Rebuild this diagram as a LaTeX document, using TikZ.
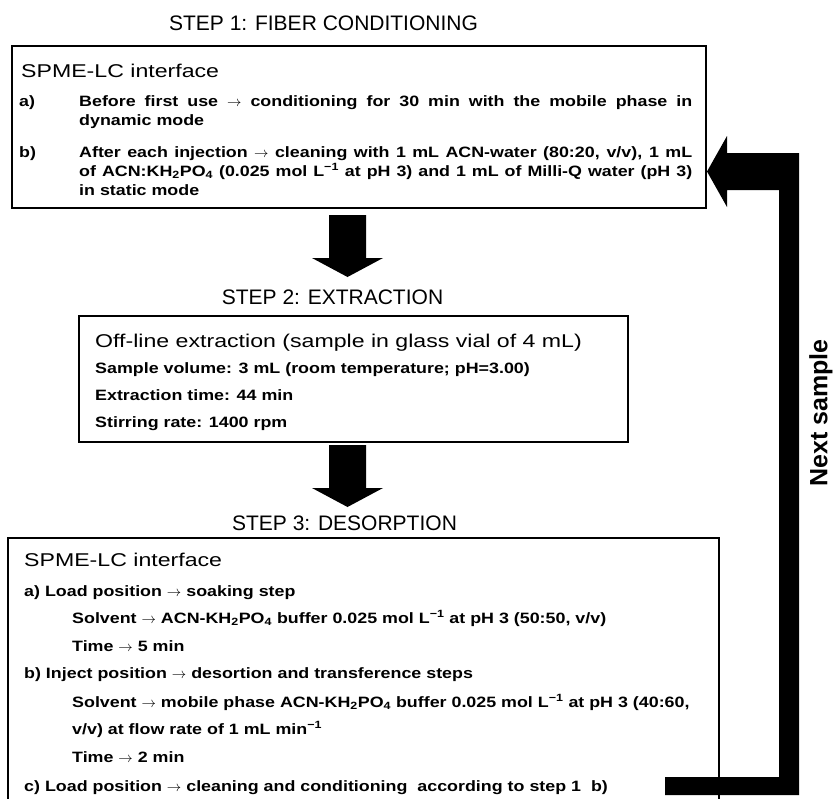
\documentclass[tikz,border=0pt]{standalone}
\usepackage{fontspec}
\setmainfont{Liberation Sans}
\newfontfamily\ttlfam{Liberation Sans}
\newfontfamily\hdfam{Liberation Sans}[FakeStretch=1.25]
\newfontfamily\txtfam{Liberation Sans Bold}[FakeStretch=1.19]
\newfontfamily\nsfam{Liberation Sans Bold}
\usetikzlibrary{calc}
\tikzset{
  ttl/.style={font=\ttlfam\fontsize{21}{25}\selectfont, inner sep=0pt},
  hd/.style={font=\hdfam\fontsize{18.5}{22}\selectfont, anchor=base west, inner sep=0pt},
  txt/.style={font=\txtfam\fontsize{15}{18}\selectfont, anchor=base west, inner sep=0pt},
  boxed/.style={draw, line width=2.5pt, outer sep=0pt, inner sep=0pt, anchor=north west},
  openbox/.style={draw, line width=2pt},
  blk/.style={fill=black},
  nslabel/.style={font=\nsfam\fontsize{25}{30}\selectfont, inner sep=0pt, rotate=90}
}
\begin{document}
\begin{tikzpicture}[x=1pt,y=-1pt]
\useasboundingbox (0,0) rectangle (834,798);
\clip (0,0) rectangle (834,798);

% titles
\node[ttl] (t1) at (323.5,23) {STEP 1: FIBER CONDITIONING};
\node[ttl] (t2) at (332.5,297) {STEP 2: EXTRACTION};
\node[ttl] (t3) at (344.5,523) {STEP 3: DESORPTION};

% boxes
\node[boxed, minimum width=694pt, minimum height=162pt] (b1) at (12,46) {};
\node[boxed, minimum width=549pt, minimum height=126pt] (b2) at (79,316) {};
\coordinate (b3nw) at (8,538);
\coordinate (b3ne) at (719,538);
\coordinate (b3sw) at (8,806);
\coordinate (b3se) at (719,806);
\draw[openbox] (b3sw) -- (b3nw) -- (b3ne) -- (b3se);

% box 1 text
\node[hd] (s1h) at (21,77) {SPME-LC interface};
\node[txt] (s1a) at (19,106) {a)};
\node[txt] (s1a1) at (79,106) {\makebox[613pt][s]{Before first use $\rightarrow$ conditioning for 30 min with the mobile phase in}};
\node[txt] (s1a2) at (79,125) {dynamic mode};
\node[txt] (s1b) at (19,157) {b)};
\node[txt] (s1b1) at (79,157) {\makebox[613pt][s]{After each injection $\rightarrow$ cleaning with 1 mL ACN-water (80:20, v/v), 1 mL}};
\node[txt] (s1b2) at (79,176) {\makebox[613pt][s]{of ACN:KH\textsubscript{2}PO\textsubscript{4} (0.025 mol L\textsuperscript{−1} at pH 3) and 1 mL of Milli-Q water (pH 3)}};
\node[txt] (s1b3) at (79,195) {in static mode};

% box 2 text
\node[hd] (s2h) at (95,347) {Off-line extraction (sample in glass vial of 4 mL)};
\node[txt] (s2a) at (95,373) {Sample volume: 3 mL (room temperature; pH=3.00)};
\node[txt] (s2b) at (95,400) {Extraction time: 44 min};
\node[txt] (s2c) at (95,427) {Stirring rate: 1400 rpm};

% box 3 text
\node[hd] (s3h) at (24,566) {SPME-LC interface};
\node[txt] (s3a) at (24,596) {a) Load position $\rightarrow$ soaking step};
\node[txt] (s3a1) at (72,623) {Solvent $\rightarrow$ ACN-KH\textsubscript{2}PO\textsubscript{4} buffer 0.025 mol L\textsuperscript{−1} at pH 3 (50:50, v/v)};
\node[txt] (s3a2) at (72,651) {Time $\rightarrow$ 5 min};
\node[txt] (s3b) at (24,678) {b) Inject position $\rightarrow$ desortion and transference steps};
\node[txt] (s3b1) at (72,707) {Solvent $\rightarrow$ mobile phase ACN-KH\textsubscript{2}PO\textsubscript{4} buffer 0.025 mol L\textsuperscript{−1} at pH 3 (40:60,};
\node[txt] (s3b2) at (72,734) {v/v) at flow rate of 1 mL min\textsuperscript{−1}};
\node[txt] (s3b3) at (72,762) {Time $\rightarrow$ 2 min};
\node[txt] (s3c) at (24,791) {c) Load position $\rightarrow$ cleaning and conditioning\ \ according to step 1\ \ b)};

% down arrows
\coordinate (a1s) at (347.5,215);
\coordinate (a1e) at (347.5,277);
\fill[blk] ($(a1s)+(-18.5,0)$) -- ($(a1s)+(18.5,0)$) -- ($(a1e)+(18.5,-19)$) -- ($(a1e)+(35.5,-19)$) -- (a1e) -- ($(a1e)+(-35.5,-19)$) -- ($(a1e)+(-18.5,-19)$) -- cycle;
\coordinate (a2s) at (347.5,445);
\coordinate (a2e) at (347.5,507);
\fill[blk] ($(a2s)+(-18.5,0)$) -- ($(a2s)+(18.5,0)$) -- ($(a2e)+(18.5,-19)$) -- ($(a2e)+(35.5,-19)$) -- (a2e) -- ($(a2e)+(-35.5,-19)$) -- ($(a2e)+(-18.5,-19)$) -- cycle;

% loop-back arrow
\coordinate (lt) at (707,171.5);
\fill[blk] (665,777) -- (779,777) -- (779,190) -- (727,190) -- (727,207) -- (lt) -- (727,136) -- (727,153) -- (799,153) -- (799,795) -- (665,795) -- cycle;

\node[nslabel] (ns) at (821,413) {Next sample};
\end{tikzpicture}
\end{document}
